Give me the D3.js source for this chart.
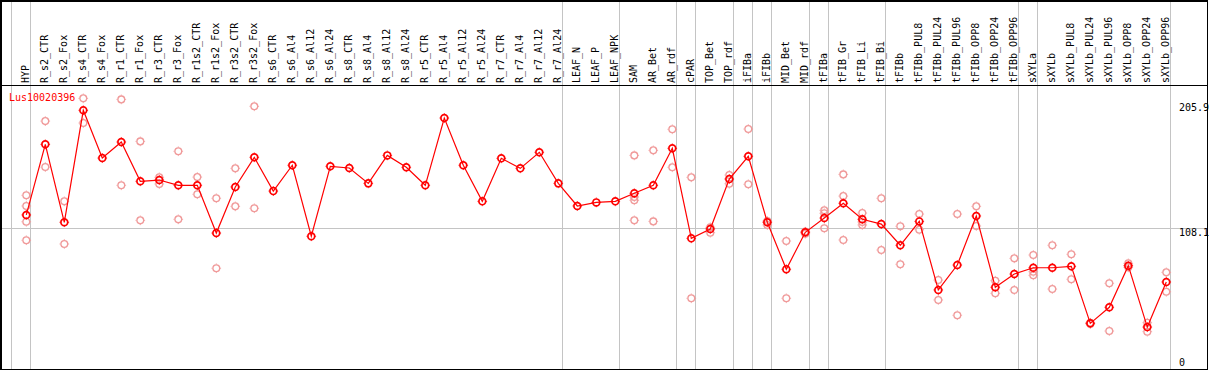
<!DOCTYPE html>
<html>
<head>
<meta charset="utf-8">
<script src="https://cdn.jsdelivr.net/npm/d3@7"></script>
<style>
  body { margin: 0; background: #fff; }
  svg { display: block; }
  text { font-family: "DejaVu Sans Mono", "Liberation Mono", monospace; font-size: 10px; }
</style>
</head>
<body>
<script>
// sample names (one column each)
var samples = ["HYP","R_s2_CTR","R_s2_Fox","R_s4_CTR","R_s4_Fox","R_r1_CTR","R_r1_Fox","R_r3_CTR","R_r3_Fox",
  "R_r1s2_CTR","R_r1s2_Fox","R_r3s2_CTR","R_r3s2_Fox","R_s6_CTR","R_s6_Al4","R_s6_Al12","R_s6_Al24",
  "R_s8_CTR","R_s8_Al4","R_s8_Al12","R_s8_Al24","R_r5_CTR","R_r5_Al4","R_r5_Al12","R_r5_Al24",
  "R_r7_CTR","R_r7_Al4","R_r7_Al12","R_r7_Al24","LEAF_N","LEAF_P","LEAF_NPK","SAM","AR_Bet","AR_rdf",
  "cPAR","TOP_Bet","TOP_rdf","iFIBa","iFIBb","MID_Bet","MID_rdf","tFIBa","tFIB_Gr","tFIB_Li","tFIB_Bi",
  "tFIBb","tFIBb_PUL8","tFIBb_PUL24","tFIBb_PUL96","tFIBb_OPP8","tFIBb_OPP24","tFIBb_OPP96",
  "sXYLa","sXYLb","sXYLb_PUL8","sXYLb_PUL24","sXYLb_PUL96","sXYLb_OPP8","sXYLb_OPP24","sXYLb_OPP96"];

// mean expression per sample
var means = [118.4,173.4,112.7,199.9,162.7,175.2,144.6,145.6,141.5,141.5,104.3,140.2,163.3,137.0,157.1,101.8,156.3,
  155.0,143.0,164.8,155.5,141.5,193.9,157.1,129.0,162.5,154.7,167.2,143.0,125.4,128.2,129.0,135.3,141.5,170.3,
  100.2,107.5,146.4,164.1,112.7,76.1,104.9,116.0,127.5,115.0,111.3,94.8,113.4,60.0,79.4,117.6,62.1,72.4,
  77.3,77.3,78.4,34.0,46.5,78.9,31.1,66.2];

// individual replicates per sample
var replicates = [[133.7,125.4,113.1,98.7],[191.5,155.7],[129.0,95.8],[209.2,190.0],[],[208.4,141.5],[175.7,114.2],
  [147.7,142.5],[168.0,115.0],[147.9,134.5],[131.4,76.9],[154.7,125.1],[203.0,123.6],[],[],[],[],
  [],[],[],[],[],[],[],[],[],[],[],[],[],[],[],[164.8,132.4,129.8,114.2],[168.7,113.4],[185.1,155.5],
  [147.7,53.5],[108.8,104.6],[149.5,142.7],[185.3,142.3],[113.7,110.6],[98.1,53.5],[105.4,103.8],
  [122.0,119.7,108.0],[150.0,133.1,98.9],[119.9,112.9,110.6],[131.4,91.1],[109.6,80.0],[119.1,106.9],
  [67.7,52.2],[119.1,40.3],[125.1,109.8],[67.2,57.4],[84.6,60.0],[87.2,74.2,71.4],[94.8,60.7],[87.8,68.3],
  [34.5,33.5],[65.2,28.0],[80.7,77.6],[34.5,27.5],[73.7,58.6]];

// first column of each tissue group (61 = after last column)
var groupStarts = [0,1,29,32,35,36,38,39,40,42,43,46,53,54,61];

var yTicks = [0, 108.1, 205.9];
var geneName = "Lus10020396";

var width = 1209, height = 370;
var step = 19;

var svg = d3.select("body").append("svg")
  .attr("width", width)
  .attr("height", height);

var x = d3.scalePoint()
  .domain(samples)
  .range([26.3, 26.3 + (samples.length - 1) * step]);

var y = d3.scaleLinear()
  .domain([0, 205.9])
  .range([367, 102.6]);

function colX(i){
  return i < samples.length ? x(samples[i]) : x(samples[samples.length - 1]) + step;
}

// horizontal grid at middle tick
svg.append("line")
  .attr("x1", 0).attr("x2", 1207)
  .attr("y1", Math.round(y(108.1)) + 0.5).attr("y2", Math.round(y(108.1)) + 0.5)
  .attr("stroke", "#c4c4c4");

// group separators
svg.selectAll(".sep")
  .data(groupStarts)
  .enter().append("line")
  .attr("class", "sep")
  .attr("x1", function(d){ return Math.floor(colX(d) - 14.5) + 0.5; })
  .attr("x2", function(d){ return Math.floor(colX(d) - 14.5) + 0.5; })
  .attr("y1", 0).attr("y2", 369)
  .attr("stroke", "#c4c4c4");

// frame
svg.append("line").attr("x1", 0).attr("x2", 1208).attr("y1", 1).attr("y2", 1).attr("stroke", "#000").attr("stroke-width", 2);
svg.append("line").attr("x1", 1).attr("x2", 1).attr("y1", 0).attr("y2", 370).attr("stroke", "#000").attr("stroke-width", 2);
svg.append("line").attr("x1", 0).attr("x2", 1208).attr("y1", 85.5).attr("y2", 85.5).attr("stroke", "#000");
svg.append("line").attr("x1", 0).attr("x2", 1208).attr("y1", 369.5).attr("y2", 369.5).attr("stroke", "#000");
svg.append("line").attr("x1", 1207.5).attr("x2", 1207.5).attr("y1", 0).attr("y2", 370).attr("stroke", "#000");

// column labels (rotated)
svg.selectAll(".lab")
  .data(samples)
  .enter().append("text")
  .attr("class", "lab")
  .attr("transform", function(d){ return "translate(" + (x(d) + 3) + ",83) rotate(-90)"; })
  .attr("fill", "#000")
  .text(function(d){ return d; });

// y tick labels on the right
svg.selectAll(".tick")
  .data(yTicks)
  .enter().append("text")
  .attr("class", "tick")
  .attr("x", 1179)
  .attr("y", function(d){ return d === 0 ? y(d) - 1 : y(d) + 8; })
  .attr("fill", "#000")
  .text(function(d){ return d; });

// replicate markers
var reps = [];
replicates.forEach(function(r, i){
  r.forEach(function(v){ reps.push({s: samples[i], v: v}); });
});

function marker(g, color, sw){
  g.append("circle").attr("r", 3.4).attr("fill", "none").attr("stroke", color).attr("stroke-width", sw);
  g.append("path").attr("d", "M0,-4.8V-3.8M0,3.8V4.8M-4.8,0H-3.8M3.8,0H4.8").attr("stroke", color).attr("stroke-width", 0.9);
}

svg.selectAll(".rep")
  .data(reps)
  .enter().append("g")
  .attr("class", "rep")
  .attr("transform", function(d){ return "translate(" + x(d.s) + "," + y(d.v) + ")"; })
  .each(function(){ marker(d3.select(this), "#f09a9a", 1.3); });

// mean line
var line = d3.line()
  .x(function(d, i){ return x(samples[i]); })
  .y(function(d){ return y(d); });

svg.append("path")
  .datum(means)
  .attr("d", line)
  .attr("fill", "none")
  .attr("stroke", "#ff0000")
  .attr("stroke-width", 1.2);

svg.selectAll(".mean")
  .data(means)
  .enter().append("g")
  .attr("class", "mean")
  .attr("transform", function(d, i){ return "translate(" + x(samples[i]) + "," + y(d) + ")"; })
  .each(function(){ marker(d3.select(this), "#ff0000", 1.7); });

// gene name
svg.append("text")
  .attr("x", 9)
  .attr("y", 101)
  .attr("fill", "#ff0000")
  .text(geneName);
</script>
</body>
</html>
